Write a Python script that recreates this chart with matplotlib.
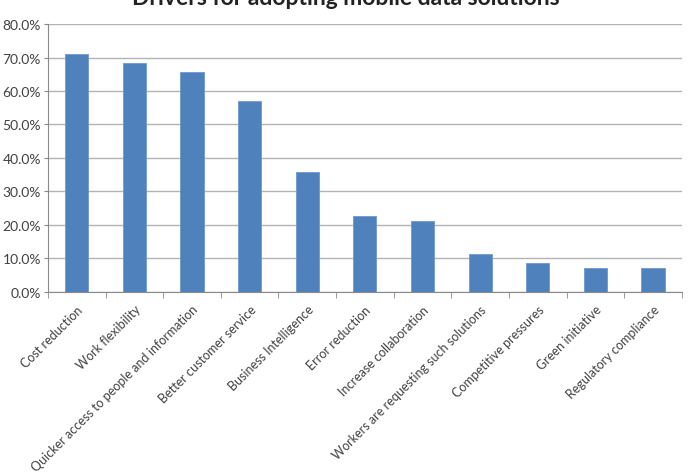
import numpy as np
import matplotlib
matplotlib.use("Agg")
import matplotlib.pyplot as plt
from matplotlib.ticker import FuncFormatter, MultipleLocator

plt.rcParams['font.family'] = ['Lato', 'DejaVu Sans']

# Drivers and share of respondents (%)
drivers = ["Cost reduction", "Work flexibility",
           "Quicker access to people and information",
           "Better customer service", "Business Intelligence",
           "Error reduction", "Increase collaboration",
           "Workers are requesting such solutions",
           "Competitive pressures", "Green initiative",
           "Regulatory compliance"]
share = [71.2, 68.5, 65.6, 57.1, 35.8, 22.8, 21.3, 11.4, 8.5, 7.0, 7.0]
title = "Drivers for adopting mobile data solutions"

fig = plt.figure(figsize=(6.95, 4.77), dpi=100)
ax = fig.add_axes([0.069, 0.386, 0.912, 0.5615])

x = np.arange(len(drivers))
ax.bar(x, share, width=0.4, color="#4F81BD", edgecolor="#6F98CB",
       linewidth=0.6, zorder=3)

# axes look like an old Excel chart
ax.set_xlim(-0.5, len(drivers) - 0.5)
ax.set_ylim(0, 80)
ax.yaxis.set_major_locator(MultipleLocator(10))
ax.yaxis.set_major_formatter(FuncFormatter(lambda v, p: "%.1f%%" % v))
ax.grid(axis="y", color="#b3b3b3", linewidth=1.0, zorder=0)
for side in ["top", "right"]:
    ax.spines[side].set_visible(False)
ax.spines["left"].set_color("#8a8a8a")
ax.spines["bottom"].set_color("#8a8a8a")

ax.set_xticks(x)
ax.set_xticklabels(drivers, rotation=45, ha="right", rotation_mode="anchor",
                   fontsize=9, color="#404040")
ax.tick_params(axis="x", length=0, pad=8)
ax.set_xticks(np.arange(-0.5, len(drivers) + 0.5, 1), minor=True)
ax.tick_params(axis="x", which="minor", length=4, color="#8a8a8a")
ax.tick_params(axis="y", length=3, color="#8a8a8a", labelsize=10,
               labelcolor="#404040", pad=2)

# title sits partly above the top of the picture, as in the original
fig.text(0.497, 1 - 5 / 477, title, ha="center", va="baseline",
         fontsize=16.5, fontweight="bold", color="#222222")

fig.savefig("out.png", dpi=100)
